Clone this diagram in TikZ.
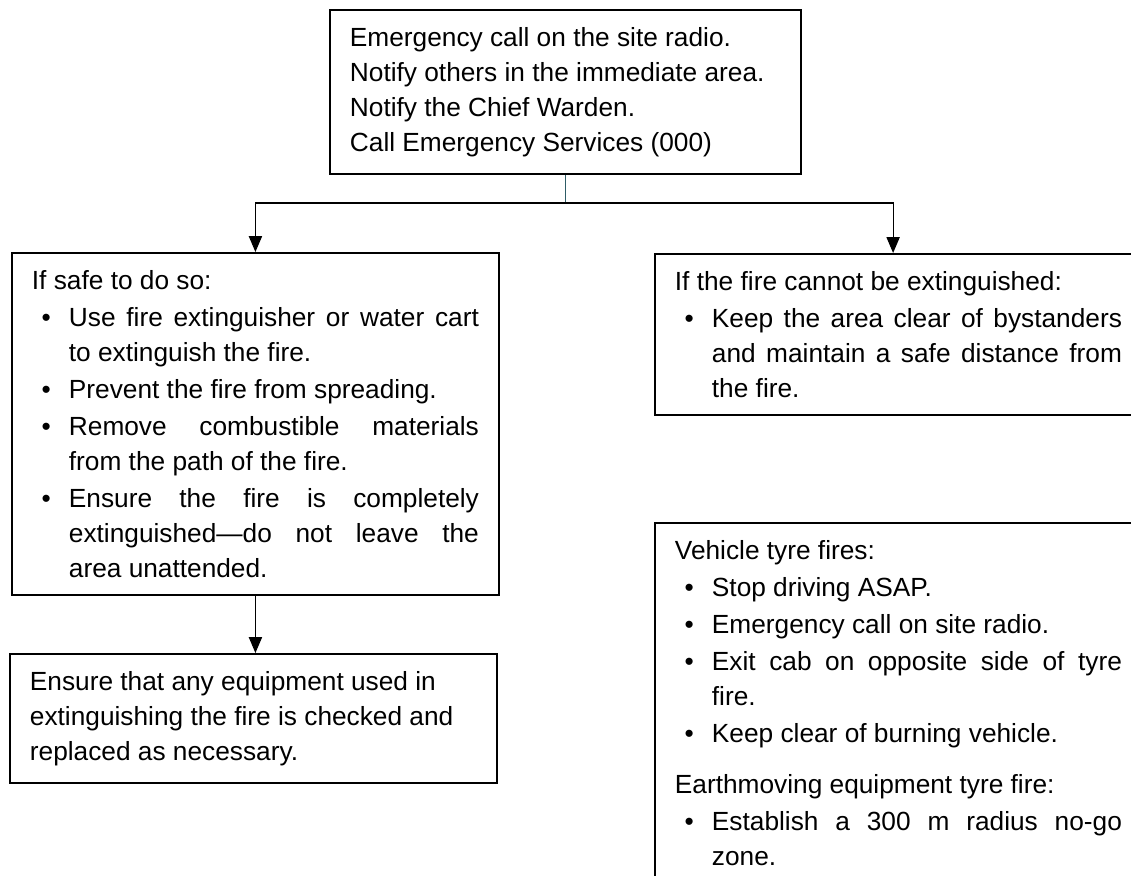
\documentclass[tikz,border=0pt]{standalone}
\usepackage{fontspec}
\setmainfont{Liberation Sans}
\usetikzlibrary{positioning,arrows.meta}

\definecolor{stemteal}{RGB}{46,92,102}

\hyphenpenalty=10000
\exhyphenpenalty=10000
\hbadness=10000

\newenvironment{dotlist}{%
  \begin{list}{\textbullet}{%
    \setlength{\leftmargin}{27.75pt}%
    \setlength{\labelsep}{13.5pt}%
    \setlength{\labelwidth}{14.25pt}%
    \setlength{\topsep}{1.5pt}%
    \setlength{\partopsep}{0pt}%
    \setlength{\itemsep}{1.5pt}%
    \setlength{\parsep}{0pt}}}%
  {\end{list}}

\begin{document}
\begin{tikzpicture}[x=0.75pt, y=-0.75pt,
panel/.style={rectangle, draw=black, line width=1.4pt, anchor=north west, inner xsep=15pt, inner ysep=13pt, font=\fontsize{19.7pt}{26.25pt}\selectfont},
flow_arrow/.style={-{Triangle[length=12pt,width=10pt]}, line width=0.8pt},
stem_line/.style={draw=stemteal, line width=0.8pt}
]

\useasboundingbox (0,0) rectangle (1131,875);
\clip (0,0) rectangle (1131,875);

\node[panel](call) at (329,9) {\begin{minipage}{323.25pt}\raggedright
Emergency call on the site radio.\\
Notify others in the immediate area.\\
Notify the Chief Warden.\\
Call Emergency Services (000)\end{minipage}};

\node[panel](safe) at (11,252) {\begin{minipage}{335.25pt}
If safe to do so:
\begin{dotlist}
\item Use fire extinguisher or water cart \linebreak to extinguish the fire.
\item Prevent the fire from spreading.
\item Remove combustible materials \linebreak from the path of the fire.
\item Ensure the fire is completely \linebreak extinguished—do not leave the \linebreak area unattended.
\end{dotlist}
\end{minipage}};

\node[panel](cannot) at (654,253) {\begin{minipage}{335.25pt}
If the fire cannot be extinguished:
\begin{dotlist}
\item Keep the area clear of bystanders \linebreak and maintain a safe distance from \linebreak the fire.
\end{dotlist}
\end{minipage}};

\node[panel](checked) at (9,653) {\begin{minipage}{335.25pt}\raggedright
Ensure that any equipment used in\\
extinguishing the fire is checked and\\
replaced as necessary.\end{minipage}};

\node[panel](tyres) at (654,522) {\begin{minipage}{335.25pt}
Vehicle tyre fires:
\begin{dotlist}
\item Stop driving ASAP.
\item Emergency call on site radio.
\item Exit cab on opposite side of tyre \linebreak fire.
\item Keep clear of burning vehicle.
\end{dotlist}
\vspace{11pt}
Earthmoving equipment tyre fire:
\begin{dotlist}
\item Establish a 300 m radius no-go \linebreak zone.
\end{dotlist}
\end{minipage}};

\coordinate (fork) at (call.south |- 0,203);

\draw[stem_line](call.south) -- (fork);
\draw[flow_arrow](fork) -| (safe.north);
\draw[flow_arrow](fork) -| ([xshift=-4pt]cannot.north);
\draw[flow_arrow](safe.south) -- (safe.south |- checked.north);
\end{tikzpicture}
\end{document}
